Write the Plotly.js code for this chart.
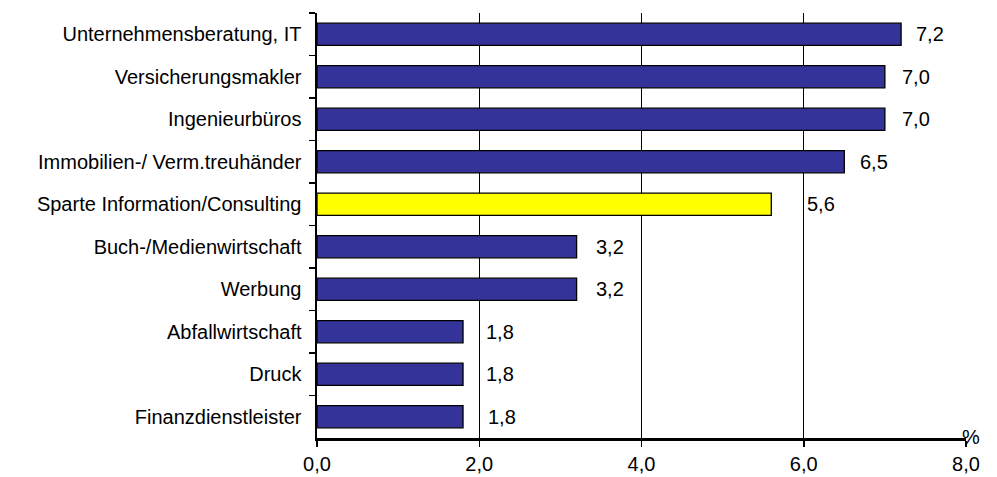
<!DOCTYPE html>
<html>
<head>
<meta charset="utf-8">
<script src="https://cdn.plot.ly/plotly-3.0.1.min.js"></script>
<style>html,body{margin:0;padding:0;background:#fff;}#chart{width:997px;height:477px;}</style>
</head>
<body>
<div id="chart"></div>
<script>
const categories = [
  "Unternehmensberatung, IT",
  "Versicherungsmakler",
  "Ingenieurbüros",
  "Immobilien-/ Verm.treuhänder",
  "Sparte Information/Consulting",
  "Buch-/Medienwirtschaft",
  "Werbung",
  "Abfallwirtschaft",
  "Druck",
  "Finanzdienstleister"
];
const values = [7.2, 7.0, 7.0, 6.5, 5.6, 3.2, 3.2, 1.8, 1.8, 1.8];
const highlight = "Sparte Information/Consulting";
const xTicks = [0, 2, 4, 6, 8];
const xTickLabels = ["0,0", "2,0", "4,0", "6,0", "8,0"];

// styling: pixel offsets of the value labels from the bar ends
const labelShifts = [13, 15, 15, 14, 34, 17, 17, 21, 21, 23];

const fmt = v => v.toFixed(1).replace(".", ",");
const colors = categories.map(c => c === highlight ? "#FFFF00" : "#333399");
const font = {family: "Arial, 'Liberation Sans', sans-serif", size: 20, color: "#000"};

const trace = {
  type: "bar",
  orientation: "h",
  x: values,
  y: categories,
  width: 0.52,
  marker: {color: colors, line: {color: "#000", width: 1.3}},
  hoverinfo: "none"
};

const annotations = categories.map((c, i) => ({
  x: values[i], y: c, xref: "x", yref: "y",
  text: fmt(values[i]), showarrow: false,
  xanchor: "left", xshift: labelShifts[i],
  font: font
}));
annotations.push({
  xref: "paper", yref: "paper", x: 1, y: 0, xanchor: "left", yanchor: "middle",
  xshift: -6, yshift: 1, text: "%", showarrow: false, font: font
});

const layout = {
  width: 997, height: 477,
  margin: {l: 317, r: 31, t: 13, b: 39},
  paper_bgcolor: "#fff", plot_bgcolor: "#fff",
  font: font,
  showlegend: false,
  xaxis: {
    range: [0, 8],
    tickvals: xTicks, ticktext: xTickLabels,
    showgrid: true, gridcolor: "#000", gridwidth: 1,
    zeroline: false,
    showline: true, linecolor: "#000", linewidth: 2.5,
    ticks: "outside", ticklen: 6, tickcolor: "#000", tickwidth: 1.5,
    tickfont: font, fixedrange: true
  },
  yaxis: {
    type: "category",
    categoryarray: categories, categoryorder: "array",
    range: [9.5, -0.5],
    showgrid: false, zeroline: false,
    showline: true, linecolor: "#000", linewidth: 2.5,
    ticks: "outside", ticklen: 6, tickcolor: "#000", tickwidth: 1.5,
    tickson: "boundaries",
    ticklabelstandoff: 9,
    tickfont: font, fixedrange: true
  },
  annotations: annotations
};

Plotly.newPlot("chart", [trace], layout, {displayModeBar: false, staticPlot: true});
</script>
</body>
</html>
